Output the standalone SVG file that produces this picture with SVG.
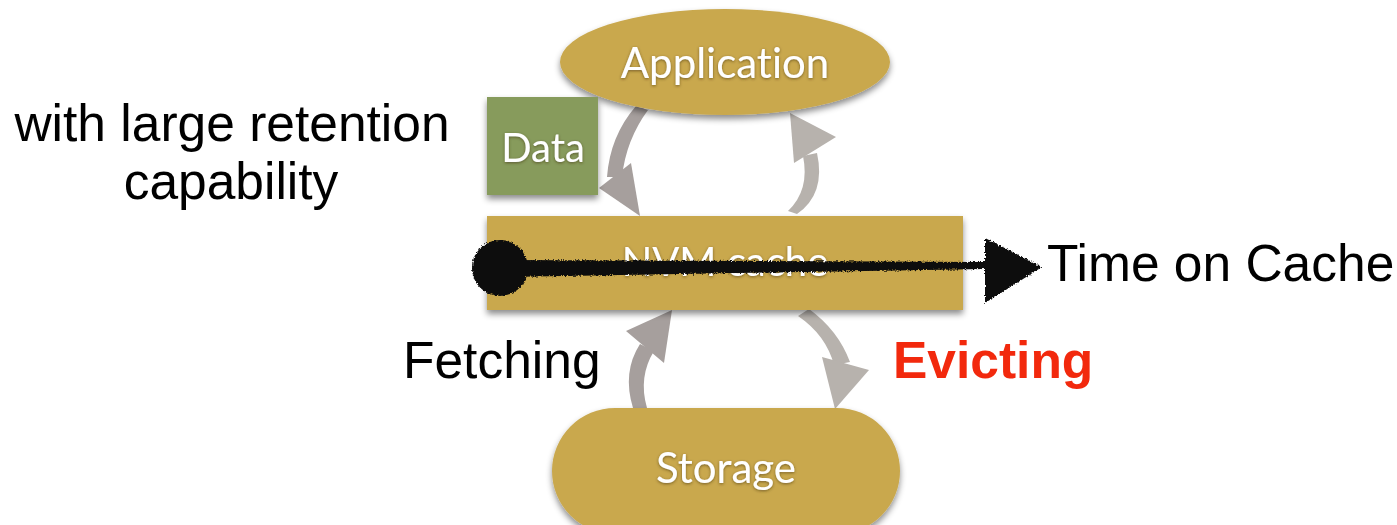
<svg xmlns="http://www.w3.org/2000/svg" width="1397" height="525" viewBox="0 0 1397 525">
<style>
.lbl{font-family:"Liberation Sans",Arial,sans-serif;font-size:51.5px;fill:#000}
.nodetxt{font-family:Lato,"Open Sans",sans-serif;fill:#fff;text-anchor:middle;font-variant-ligatures:none}
.gold{fill:#c9a84e}
.green{fill:#879b5c}
.arrA{fill:#a69f9d;stroke:none}
.arrB{fill:#b7b2ad;stroke:none}
</style>
<defs>
<filter id="shadow" x="-10%" y="-10%" width="120%" height="140%">
<feDropShadow dx="0" dy="4" stdDeviation="3" flood-color="#000" flood-opacity="0.45"/>
</filter>
<filter id="tshadow" x="-10%" y="-20%" width="120%" height="150%">
<feDropShadow dx="0" dy="1" stdDeviation="1.5" flood-color="#3a2e10" flood-opacity="0.6"/>
</filter>
<filter id="rough" x="-5%" y="-30%" width="110%" height="160%">
<feTurbulence type="fractalNoise" baseFrequency="0.6" numOctaves="2" seed="3" result="n"/>
<feDisplacementMap in="SourceGraphic" in2="n" scale="4" xChannelSelector="R" yChannelSelector="G"/>
</filter>
</defs>

<g id="connectors">
<g id="arrow-app-nvm">
<path class="arrA" d="M636,106 L648,110 Q626,140 622,177 L607,177 Q610,136 636,106 Z"/>
<polygon class="arrA" points="599,188 631,163 640,216"/>
</g>
<g id="arrow-nvm-app">
<path class="arrB" d="M788,211 Q810,190 803,156 L817,153 Q826,194 797,214 Z"/>
<polygon class="arrB" points="790,113 836,137 794,163"/>
</g>
<g id="arrow-fetching">
<path class="arrA" d="M633,408 Q622,372 640,344 L654,351 Q638,377 647,408 Z"/>
<polygon class="arrA" points="626,331 672,310 664,363"/>
</g>
<g id="arrow-evicting">
<path class="arrB" d="M798,316 L809,309 Q838,330 850,362 L834,365 Q826,335 798,316 Z"/>
<polygon class="arrB" points="822,357 869,370 835,409"/>
</g>
</g>

<g id="node-application">
<ellipse class="gold" cx="725" cy="62" rx="165" ry="53" filter="url(#shadow)"/>
<text class="nodetxt" x="725" y="78" font-size="42" filter="url(#tshadow)">Application</text>
</g>

<g id="node-data">
<rect class="green" x="487" y="97" width="111" height="98" filter="url(#shadow)"/>
<text class="nodetxt" x="543" y="162" font-size="40" filter="url(#tshadow)">Data</text>
</g>

<g id="node-nvm">
<rect class="gold" x="487" y="216" width="476" height="94" filter="url(#shadow)"/>
<text class="nodetxt" x="725" y="276" font-size="40" filter="url(#tshadow)">NVM cache</text>
</g>

<g id="node-storage">
<rect class="gold" x="552" y="408" width="348" height="126" rx="63" ry="63" filter="url(#shadow)"/>
<text class="nodetxt" x="726" y="483" font-size="42" filter="url(#tshadow)">Storage</text>
</g>

<g id="timeline" filter="url(#rough)">
<circle cx="500" cy="268" r="28" fill="#0a0a0a"/>
<polygon points="500,260 985,262 985,269 500,277" fill="#0a0a0a"/>
<polygon points="985,238 1042,267 985,303" fill="#0a0a0a"/>
</g>

<g id="labels">
<text class="lbl" x="232" y="141" text-anchor="middle">with large retention</text>
<text class="lbl" x="231" y="199" text-anchor="middle">capability</text>
<text class="lbl" x="1047" y="281">Time on Cache</text>
<text class="lbl" x="403" y="378">Fetching</text>
<text class="lbl" x="893" y="378" style="font-weight:bold;fill:#f2290d">Evicting</text>
</g>
</svg>
